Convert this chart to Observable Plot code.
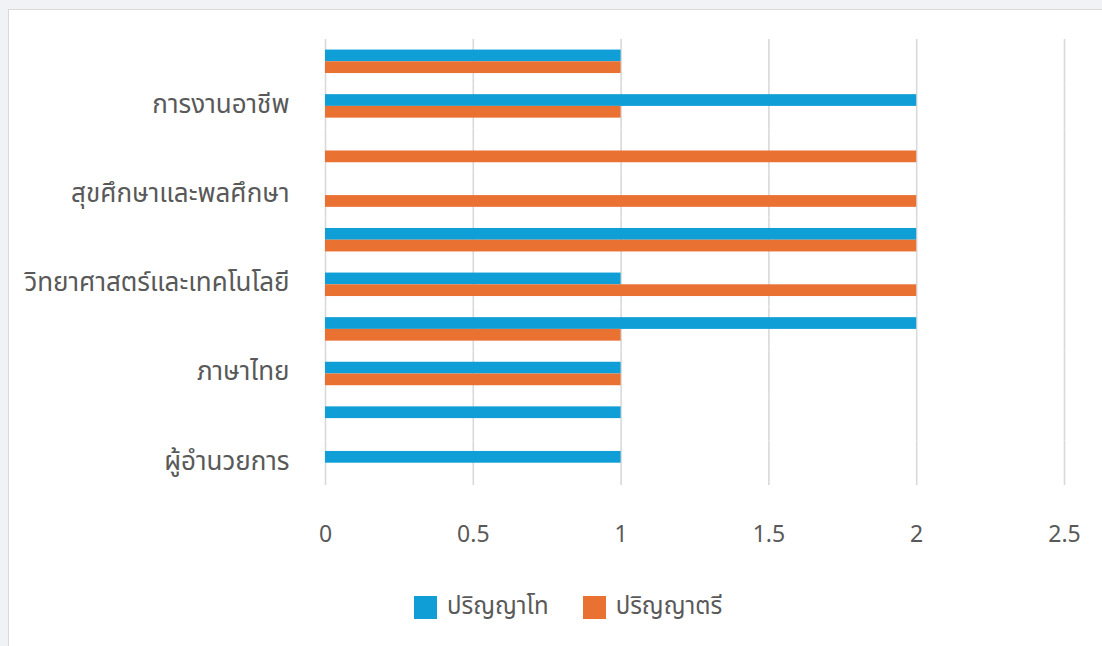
<!DOCTYPE html>
<html>
<head>
<meta charset="utf-8">
<script src="https://cdn.jsdelivr.net/npm/d3@7"></script>
<script src="https://cdn.jsdelivr.net/npm/@observablehq/plot@0.6"></script>
<style>
  html, body { margin: 0; padding: 0; background: #f0f2f5; overflow: hidden; }
  #box {
    position: absolute; left: 8px; top: 9px; width: 1100px; height: 640px;
    background: #ffffff; border-left: 1px solid #d9d9d9; border-top: 1px solid #d9d9d9;
    font-family: "Noto Sans Thai", "Noto Sans", "DejaVu Sans", sans-serif;
  }
  #chart { position: absolute; left: 0; top: 0; }
  #legend {
    position: absolute; left: 405px; top: 579px; display: flex; align-items: center;
    font-size: 24px; color: #595959;
  }
  .item { display: flex; align-items: center; margin-right: 34px; }
  .sw { width: 23px; height: 23px; margin-right: 10px; }
</style>
</head>
<body>
<div id="box">
  <div id="chart"></div>
  <div id="legend"></div>
</div>
<script>
// Categories top to bottom (Excel shows every other label)
const categories = [
  "ภาษาต่างประเทศ",
  "การงานอาชีพ",
  "ศิลปะ",
  "สุขศึกษาและพลศึกษา",
  "สังคมศึกษา ศาสนาและวัฒนธรรม",
  "วิทยาศาสตร์และเทคโนโลยี",
  "คณิตศาสตร์",
  "ภาษาไทย",
  "รองผู้อำนวยการ",
  "ผู้อำนวยการ"
];
const series = ["ปริญญาโท", "ปริญญาตรี"];
const masters   = [1, 2, 0, 0, 2, 1, 2, 1, 1, 1];
const bachelors = [1, 1, 2, 2, 2, 2, 1, 1, 0, 0];
const xTicks = [0, 0.5, 1, 1.5, 2, 2.5];
const colors = ["#0F9ED5", "#E97132"];

const rows = [];
categories.forEach((c, i) => {
  rows.push({category: c, series: series[0], value: masters[i]});
  rows.push({category: c, series: series[1], value: bachelors[i]});
});

const shown = new Set(categories.filter((c, i) => i % 2 === 1));

const chart = Plot.plot({
  width: 1093,
  height: 560,
  marginLeft: 316,
  marginRight: 38,
  marginTop: 29,
  marginBottom: 85,
  style: {fontSize: "23px", fontFamily: "'Noto Sans Thai', 'Noto Sans', 'DejaVu Sans', sans-serif", color: "#595959", background: "transparent", overflow: "visible"},
  x: {domain: [0, 2.5]},
  y: {domain: series, paddingInner: 0, paddingOuter: 0.9, round: false, axis: null},
  fy: {domain: categories, padding: 0, round: false, axis: null},
  color: {domain: series, range: colors},
  marks: [
    Plot.gridX(xTicks, {stroke: "#d9d9d9", strokeOpacity: 1, strokeWidth: 1.6}),
    Plot.barX(rows, {x: "value", y: "series", fy: "category", fill: "series", inset: 0}),
    Plot.axisX({ticks: xTicks, tickSize: 0, tickPadding: 40, label: null, tickFormat: d => String(d), fill: "#595959"}),
    Plot.axisFy({anchor: "left", tickSize: 0, tickPadding: 36, dy: -2, fontSize: 26, label: null, tickFormat: d => shown.has(d) ? d : "", fill: "#595959"})
  ]
});
document.getElementById("chart").appendChild(chart);

const legend = document.getElementById("legend");
series.forEach((s, i) => {
  const item = document.createElement("div");
  item.className = "item";
  const sw = document.createElement("div");
  sw.className = "sw";
  sw.style.background = colors[i];
  const t = document.createElement("span");
  t.textContent = s;
  item.appendChild(sw);
  item.appendChild(t);
  legend.appendChild(item);
});
</script>
</body>
</html>
